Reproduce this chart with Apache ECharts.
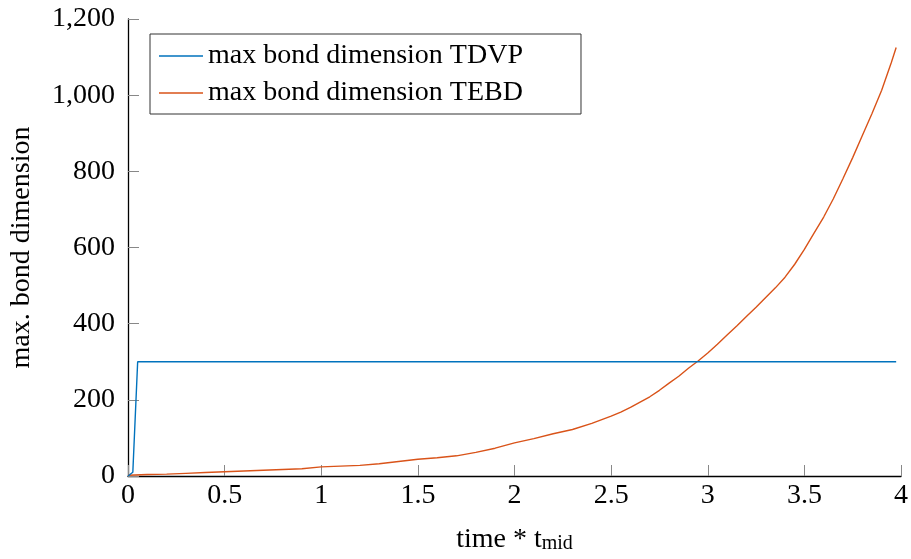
<!DOCTYPE html>
<html>
<head>
<meta charset="utf-8">
<script src="https://cdn.jsdelivr.net/npm/echarts@6/dist/echarts.min.js"></script>
<style>
  html, body { margin: 0; padding: 0; background: #fff; }
  #chart { width: 911px; height: 559px; }
</style>
</head>
<body>
<div id="chart"></div>
<script>
// Time axis (in units of t_mid) and the maximal bond dimension reached by each method
const tdvpTime = [0, 0.025, 0.05, 0.5, 1.0, 1.5, 2.0, 2.5, 3.0, 3.5, 3.975];
const tdvpBond = [0, 10, 300, 300, 300, 300, 300, 300, 300, 300, 300];

const tebdTime = [0, 0.1, 0.2, 0.3, 0.4, 0.5, 0.6, 0.7, 0.8, 0.9, 1.0, 1.1, 1.2, 1.3, 1.4, 1.5,
                  1.6, 1.7, 1.8, 1.9, 2.0, 2.1, 2.2, 2.3, 2.4, 2.5, 2.55, 2.6, 2.65, 2.7, 2.75,
                  2.8, 2.85, 2.9, 2.95, 3.0, 3.05, 3.1, 3.15, 3.2, 3.25, 3.3, 3.35, 3.4, 3.45,
                  3.5, 3.55, 3.6, 3.65, 3.7, 3.75, 3.8, 3.85, 3.9, 3.95, 3.975];
const tebdBond = [2, 4, 5, 7, 9, 11, 13, 15, 17, 19, 24, 26, 28, 32, 38, 44,
                  48, 53, 62, 73, 87, 98, 111, 122, 138, 157, 168, 180, 194, 208, 225,
                  244, 262, 283, 302, 323, 346, 370, 394, 419, 443, 469, 494, 522, 556,
                  595, 638, 680, 728, 781, 836, 894, 952, 1013, 1086, 1125];

const seriesNames = ['max bond dimension TDVP', 'max bond dimension TEBD'];
const xTickLabels = ['0', '0.5', '1', '1.5', '2', '2.5', '3', '3.5', '4'];
const yTickLabels = ['0', '200', '400', '600', '800', '1,000', '1,200'];

const FONT = '"Liberation Serif", "DejaVu Serif", serif';
const zip = (xs, ys) => xs.map((x, i) => [x, ys[i]]);

const chart = echarts.init(document.getElementById('chart'), null, { renderer: 'canvas' });
chart.setOption({
  animation: false,
  backgroundColor: '#ffffff',
  textStyle: { fontFamily: FONT, color: '#000' },
  grid: { left: 126, right: 9, top: 19, bottom: 79, containLabel: false },
  legend: {
    orient: 'vertical',
    left: 150,
    top: 34,
    padding: [7, 58, 6, 9],
    itemGap: 7,
    itemWidth: 44,
    itemHeight: 1.6,
    icon: 'rect',
    borderColor: '#333',
    borderWidth: 1,
    backgroundColor: '#fff',
    textStyle: { fontFamily: FONT, fontSize: 28, color: '#000', lineHeight: 30 },
    data: seriesNames
  },
  xAxis: {
    type: 'value',
    min: 0,
    max: 4,
    interval: 0.5,
    name: '{n|time * t}{s|mid}',
    nameLocation: 'middle',
    nameGap: 48,
    nameTextStyle: {
      fontFamily: FONT,
      rich: {
        n: { fontFamily: FONT, fontSize: 28, color: '#000', lineHeight: 30, verticalAlign: 'bottom' },
        s: { fontFamily: FONT, fontSize: 20, color: '#000', lineHeight: 30, verticalAlign: 'bottom', padding: [12, 0, 0, 0] }
      }
    },
    axisLine: { show: true, onZero: false, lineStyle: { color: '#000', width: 1.3 } },
    axisTick: { show: true, inside: true, length: 11, lineStyle: { color: '#888', width: 1 } },
    axisLabel: {
      fontFamily: FONT, fontSize: 28, color: '#000', margin: 6,
      showMinLabel: true, showMaxLabel: true,
      formatter: (v) => xTickLabels[Math.round(v / 0.5)]
    },
    splitLine: { show: false }
  },
  yAxis: {
    type: 'value',
    min: 0,
    max: 1200,
    interval: 200,
    name: 'max. bond dimension',
    nameLocation: 'middle',
    nameGap: 92,
    nameTextStyle: { fontFamily: FONT, fontSize: 28, color: '#000' },
    axisLine: { show: true, onZero: false, lineStyle: { color: '#000', width: 1.3 } },
    axisTick: { show: true, inside: true, length: 11, lineStyle: { color: '#888', width: 1 } },
    axisLabel: {
      fontFamily: FONT, fontSize: 28, color: '#000', margin: 13,
      showMinLabel: true, showMaxLabel: true,
      formatter: (v) => yTickLabels[Math.round(v / 200)]
    },
    splitLine: { show: false }
  },
  series: [
    {
      name: seriesNames[0],
      type: 'line',
      data: zip(tdvpTime, tdvpBond),
      symbol: 'none',
      lineStyle: { color: '#0072BD', width: 1.4 },
      itemStyle: { color: '#0072BD' },
      z: 3
    },
    {
      name: seriesNames[1],
      type: 'line',
      data: zip(tebdTime, tebdBond),
      symbol: 'none',
      lineStyle: { color: '#D95319', width: 1.4 },
      itemStyle: { color: '#D95319' },
      z: 2
    }
  ]
});
</script>
</body>
</html>
